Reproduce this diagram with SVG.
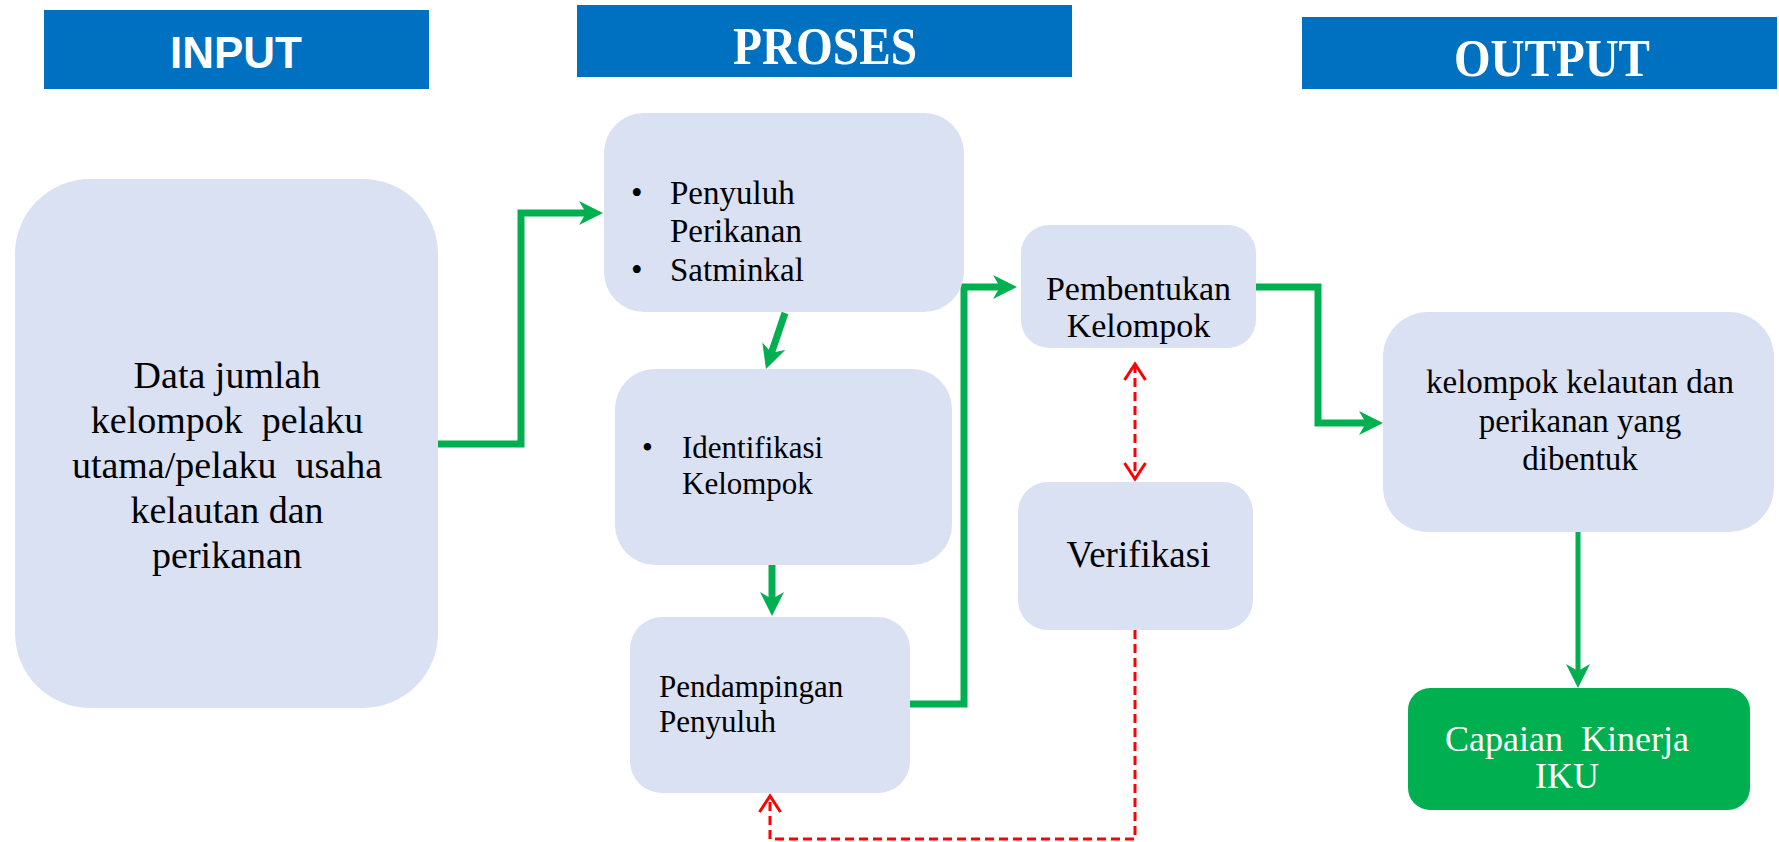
<svg xmlns="http://www.w3.org/2000/svg" width="1779" height="842" viewBox="0 0 1779 842">
<style>
.node{fill:#DAE1F3}
.hdr{fill:#0070C0}
.ht{fill:#FFFFFF;font-family:"Liberation Serif",serif;font-weight:bold;text-anchor:middle}
.t{fill:#000000;font-family:"Liberation Serif",serif}
.c{text-anchor:middle}
.g{fill:none;stroke:#00B050;stroke-width:7;stroke-linejoin:miter}
.r{fill:none;stroke:#FF0000;stroke-width:3;stroke-dasharray:9 5}
</style>
<defs>
<marker id="ag" markerUnits="userSpaceOnUse" markerWidth="26" markerHeight="24" viewBox="0 0 26 24" refX="14" refY="12" orient="auto">
<path d="M0,0 L24,12 L0,24 L7,12 Z" fill="#00B050"/>
</marker>
<marker id="ar" markerUnits="userSpaceOnUse" markerWidth="22" markerHeight="24" viewBox="0 0 22 24" refX="18" refY="12" orient="auto-start-reverse">
<path d="M2,1.5 L18,12 L2,22.5" fill="none" stroke="#FF0000" stroke-width="3"/>
</marker>
</defs>
<rect width="1779" height="842" fill="#FFFFFF"/>

<g id="hdr-input">
<rect class="hdr" x="44" y="10" width="385" height="79"/>
<text x="236" y="68" font-family="'Liberation Sans',sans-serif" font-weight="bold" font-size="45" fill="#FFFFFF" text-anchor="middle" textLength="132" lengthAdjust="spacingAndGlyphs">INPUT</text>
</g>
<g id="hdr-proses">
<rect class="hdr" x="577" y="5" width="495" height="72"/>
<text class="ht" x="825" y="64" font-size="53" textLength="184" lengthAdjust="spacingAndGlyphs">PROSES</text>
</g>
<g id="hdr-output">
<rect class="hdr" x="1302" y="17" width="475" height="72"/>
<text class="ht" x="1552" y="76" font-size="53" textLength="196" lengthAdjust="spacingAndGlyphs">OUTPUT</text>
</g>

<g id="connectors">
<path class="g" d="M438,444 H521 V213 H593" marker-end="url(#ag)"/>
<path class="g" d="M785,313 L769.2,359.5" marker-end="url(#ag)"/>
<path class="g" d="M772,565 V606" marker-end="url(#ag)"/>
<path class="g" d="M910,704 H964 V287 H1007" marker-end="url(#ag)"/>
<path class="g" d="M1256,287 H1318 V423 H1373" marker-end="url(#ag)"/>
<path class="g" d="M1578,532 V678" style="stroke-width:5" marker-end="url(#ag)"/>
<path class="r" d="M1135,364 V479" marker-start="url(#ar)" marker-end="url(#ar)"/>
<path class="r" d="M1135,630 V839 H770 V796" marker-end="url(#ar)"/>
</g>

<g id="n-input">
<rect class="node" x="15" y="179" width="423" height="529" rx="75" ry="75"/>
<text class="t c" font-size="38" xml:space="preserve"><tspan x="227" y="388">Data jumlah</tspan><tspan x="227" y="433">kelompok  pelaku</tspan><tspan x="227" y="478">utama/pelaku  usaha</tspan><tspan x="227" y="523">kelautan dan</tspan><tspan x="227" y="568">perikanan</tspan></text>
</g>

<g id="n-penyuluh">
<rect class="node" x="604" y="113" width="360" height="199" rx="40" ry="40"/>
<text class="t" font-size="33"><tspan x="631" y="204">•</tspan><tspan x="670" y="204">Penyuluh</tspan><tspan x="670" y="242">Perikanan</tspan><tspan x="631" y="281">•</tspan><tspan x="670" y="281">Satminkal</tspan></text>
</g>

<g id="n-identifikasi">
<rect class="node" x="615" y="369" width="337" height="196" rx="40" ry="40"/>
<text class="t" font-size="31"><tspan x="642" y="458">•</tspan><tspan x="682" y="458">Identifikasi</tspan><tspan x="682" y="494">Kelompok</tspan></text>
</g>

<g id="n-pendampingan">
<rect class="node" x="630" y="617" width="280" height="176" rx="32" ry="32"/>
<text class="t" font-size="31"><tspan x="659" y="697">Pendampingan</tspan><tspan x="659" y="732">Penyuluh</tspan></text>
</g>

<g id="n-pembentukan">
<rect class="node" x="1021" y="225" width="235" height="123" rx="28" ry="28"/>
<text class="t c" font-size="34"><tspan x="1138.5" y="300">Pembentukan</tspan><tspan x="1138.5" y="337">Kelompok</tspan></text>
</g>

<g id="n-verifikasi">
<rect class="node" x="1018" y="482" width="235" height="148" rx="30" ry="30"/>
<text class="t c" x="1138.5" y="567" font-size="37">Verifikasi</text>
</g>

<g id="n-kelompok">
<rect class="node" x="1383" y="312" width="391" height="220" rx="45" ry="45"/>
<text class="t c" font-size="33"><tspan x="1580" y="393">kelompok kelautan dan</tspan><tspan x="1580" y="432">perikanan yang</tspan><tspan x="1580" y="470">dibentuk</tspan></text>
</g>

<g id="n-capaian">
<rect x="1408" y="688" width="342" height="122" rx="22" ry="22" fill="#00B050"/>
<text font-family="'Liberation Serif',serif" font-size="36" fill="#FFFFFF" text-anchor="middle" xml:space="preserve"><tspan x="1567" y="751">Capaian  Kinerja</tspan><tspan x="1567" y="788">IKU</tspan></text>
</g>
</svg>
